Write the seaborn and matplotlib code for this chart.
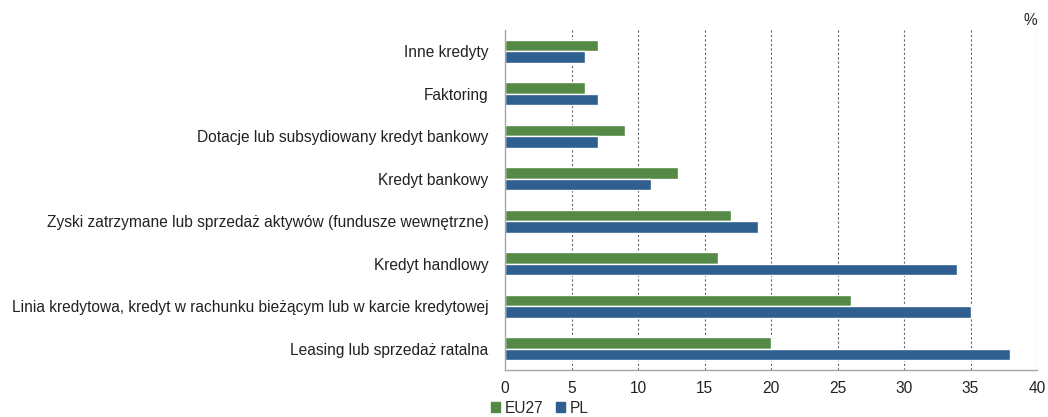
import numpy as np
import pandas as pd
import matplotlib
matplotlib.use("Agg")
import matplotlib.pyplot as plt
import seaborn as sns
from matplotlib.patches import Patch

categories = [
    "Inne kredyty",
    "Faktoring",
    "Dotacje lub subsydiowany kredyt bankowy",
    "Kredyt bankowy",
    "Zyski zatrzymane lub sprzedaż aktywów (fundusze wewnętrzne)",
    "Kredyt handlowy",
    "Linia kredytowa, kredyt w rachunku bieżącym lub w karcie kredytowej",
    "Leasing lub sprzedaż ratalna",
]
eu27 = [7, 6, 9, 13, 17, 16, 26, 20]
pl = [6, 7, 7, 11, 19, 34, 35, 38]
series = ["EU27", "PL"]
colors = {"EU27": "#548a46", "PL": "#2e5f8e"}
xticks = [0, 5, 10, 15, 20, 25, 30, 35, 40]

df = pd.DataFrame({
    "kategoria": categories * 2,
    "wartosc": eu27 + pl,
    "seria": ["EU27"] * len(categories) + ["PL"] * len(categories),
})

sns.set_style("white")
plt.rcParams["font.family"] = ["Liberation Sans", "DejaVu Sans"]
fs = 11.2

fig = plt.figure(figsize=(10.48, 4.17), dpi=100)
ax = fig.add_axes([0.482, 0.113, 0.5075, 0.815])

sns.barplot(data=df, x="wartosc", y="kategoria", hue="seria", order=categories,
            hue_order=series, palette=colors, orient="h", width=0.54,
            saturation=1, ax=ax, legend=False)

ax.set_xlim(0, 40)
ax.set_xticks(xticks)
ax.set_xlabel("")
ax.set_ylabel("")
ax.tick_params(axis="both", length=0, labelsize=fs, colors="#222222")
ax.tick_params(axis="x", pad=8)
ax.tick_params(axis="y", pad=12)
for x in xticks[1:]:
    ax.axvline(x, color="#666666", linestyle=(0, (2, 2)), linewidth=0.8, zorder=0)

for side in ["top", "right"]:
    ax.spines[side].set_visible(False)
for side in ["left", "bottom"]:
    ax.spines[side].set_color("#a6a6a6")
    ax.spines[side].set_linewidth(1.0)

ax.text(1.0, 1.005, "%", transform=ax.transAxes, ha="right", va="bottom", fontsize=fs)

handles = [Patch(color=colors[s], label=s) for s in series]
fig.legend(handles=handles, loc="lower left", bbox_to_anchor=(0.455, -0.03), ncol=2,
           frameon=False, fontsize=fs, handlelength=0.6, handleheight=0.6,
           handletextpad=0.3, columnspacing=0.8)

fig.savefig("out.png", dpi=100)
